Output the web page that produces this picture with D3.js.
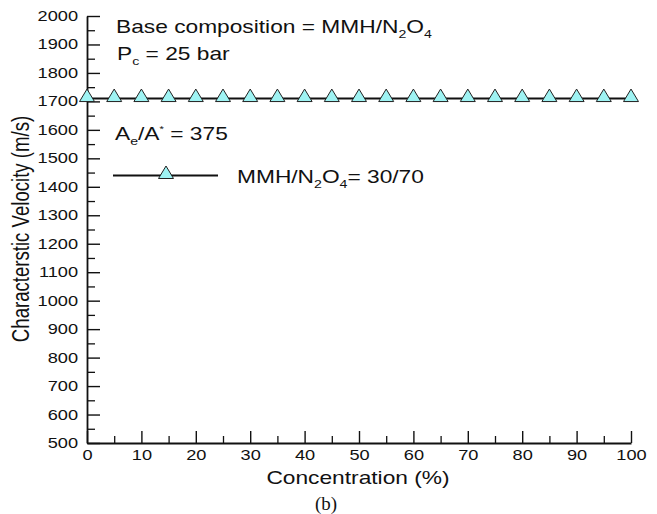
<!DOCTYPE html>
<html>
<head>
<meta charset="utf-8">
<script src="https://cdn.jsdelivr.net/npm/d3@7"></script>
<style>
  html, body { margin: 0; padding: 0; background: #fff; }
  svg { display: block; }
  text { font-family: "Liberation Sans", Arial, Helvetica, sans-serif; fill: #111; }
</style>
</head>
<body>
<script>
// Characteristic velocity vs. concentration, MMH/N2O4 = 30/70
const concentration = [0, 5, 10, 15, 20, 25, 30, 35, 40, 45, 50, 55, 60, 65, 70, 75, 80, 85, 90, 95, 100];
const velocity = [1710, 1710, 1710, 1710, 1710, 1710, 1710, 1710, 1710, 1710, 1710,
                  1710, 1710, 1710, 1710, 1710, 1710, 1710, 1710, 1710, 1710];
const xMajorTicks = [0, 10, 20, 30, 40, 50, 60, 70, 80, 90, 100];
const xMinorTicks = [5, 15, 25, 35, 45, 55, 65, 75, 85, 95];
const yMajorTicks = [500, 600, 700, 800, 900, 1000, 1100, 1200, 1300, 1400, 1500, 1600, 1700, 1800, 1900, 2000];
const yMinorTicks = [550, 650, 750, 850, 950, 1050, 1150, 1250, 1350, 1450, 1550, 1650, 1750, 1850, 1950];

const W = 657, H = 514;
const plotLeft = 87, plotRight = 631, plotTop = 16, plotBottom = 443;
const SX = 1.3; // horizontal stretch of all lettering

const svg = d3.select("body").append("svg").attr("width", W).attr("height", H);

const x = d3.scaleLinear().domain([0, 100]).range([plotLeft, plotRight]);
const y = d3.scaleLinear().domain([500, 2000]).range([plotBottom, plotTop]);

// minor ticks
svg.append("g").attr("transform", `translate(0,${plotBottom})`)
  .call(d3.axisBottom(x).tickValues(xMinorTicks).tickFormat("").tickSizeInner(-7).tickSizeOuter(0))
  .call(g => g.select(".domain").remove())
  .call(g => g.selectAll("line").attr("stroke", "#111").attr("stroke-width", 1.3));
svg.append("g").attr("transform", `translate(${plotLeft},0)`)
  .call(d3.axisLeft(y).tickValues(yMinorTicks).tickFormat("").tickSizeInner(-8).tickSizeOuter(0))
  .call(g => g.select(".domain").remove())
  .call(g => g.selectAll("line").attr("stroke", "#111").attr("stroke-width", 1.3));

// major x axis
svg.append("g").attr("transform", `translate(0,${plotBottom})`)
  .call(d3.axisBottom(x).tickValues(xMajorTicks).tickFormat(d3.format("d"))
    .tickSizeInner(-12).tickSizeOuter(0).tickPadding(7))
  .call(g => g.select(".domain").attr("stroke", "#111").attr("stroke-width", 1.8))
  .call(g => g.selectAll("line").attr("stroke", "#111").attr("stroke-width", 1.4))
  .call(g => g.selectAll("text")
    .attr("font-size", 14).attr("fill", "#111")
    .attr("font-family", "Liberation Sans, Arial, sans-serif")
    .attr("transform", `scale(${SX},1)`));

// major y axis
svg.append("g").attr("transform", `translate(${plotLeft},0)`)
  .call(d3.axisLeft(y).tickValues(yMajorTicks).tickFormat(d3.format("d"))
    .tickSizeInner(-13).tickSizeOuter(0).tickPadding(9))
  .call(g => g.select(".domain").attr("stroke", "#111").attr("stroke-width", 1.8))
  .call(g => g.selectAll("line").attr("stroke", "#111").attr("stroke-width", 1.4))
  .call(g => g.selectAll("text")
    .attr("font-size", 14).attr("fill", "#111")
    .attr("font-family", "Liberation Sans, Arial, sans-serif")
    .attr("x", -9 / SX)
    .attr("transform", `scale(${SX},1)`));

// data line and markers
const pts = concentration.map((c, i) => [c, velocity[i]]);
svg.append("path")
  .datum(pts)
  .attr("fill", "none").attr("stroke", "#111").attr("stroke-width", 2)
  .attr("d", d3.line().x(d => x(d[0])).y(d => y(d[1])));

const tri = "M0,-9.5L7.5,3L-7.5,3Z";
svg.append("g").selectAll("path")
  .data(pts)
  .join("path")
  .attr("d", tri)
  .attr("transform", d => `translate(${x(d[0])},${y(d[1])})`)
  .attr("fill", "#9ef3f3").attr("stroke", "#222").attr("stroke-width", 1);

// stretched lettering with sub/superscripts
function label(px, py, size, parts, anchor) {
  const t = svg.append("text")
    .attr("transform", `translate(${px},${py}) scale(${SX},1)`)
    .attr("font-size", size)
    .attr("text-anchor", anchor || "start");
  parts.forEach(p => {
    const [str, kind] = typeof p === "string" ? [p, null] : p;
    const s = t.append("tspan").text(str);
    if (kind === "sub") s.attr("font-size", size * 0.62).attr("dy", size * 0.3);
    else if (kind === "sup") s.attr("font-size", size * 0.5).attr("dy", -size * 0.45);
    else if (kind === "back") s.attr("dy", -size * 0.3);
    else if (kind === "backsup") s.attr("dy", size * 0.45);
  });
  return t;
}

label(116, 33, 17.5, ["Base composition = MMH/N", ["2", "sub"], ["O", "back"], ["4", "sub"]]);
label(117, 60, 17.5, ["P", ["c", "sub"], [" = 25 bar", "back"]]);
label(115, 140, 17.5, ["A", ["e", "sub"], ["/A", "back"], ["*", "sup"], [" = 375", "backsup"]]);

// legend
const legY = 175.5;
svg.append("line").attr("x1", 113).attr("x2", 218).attr("y1", legY).attr("y2", legY)
  .attr("stroke", "#111").attr("stroke-width", 2);
svg.append("path").attr("d", tri).attr("transform", `translate(166,${legY})`)
  .attr("fill", "#9ef3f3").attr("stroke", "#222").attr("stroke-width", 1);
label(237, 183, 17.5, ["MMH/N", ["2", "sub"], ["O", "back"], ["4", "sub"], ["= 30/70", "back"]]);

// axis titles
label(358, 484, 17.5, ["Concentration (%)"], "middle");
svg.append("text")
  .attr("transform", `translate(29,229) rotate(-90) scale(1,${SX})`)
  .attr("text-anchor", "middle")
  .attr("font-size", 18.6)
  .text("Characterstic Velocity (m/s)");

svg.append("text")
  .attr("transform", `translate(326,510) scale(1.05,1)`)
  .attr("text-anchor", "middle")
  .attr("font-size", 18)
  .style("font-family", "'Liberation Serif', 'Times New Roman', serif")
  .text("(b)");
</script>
</body>
</html>
